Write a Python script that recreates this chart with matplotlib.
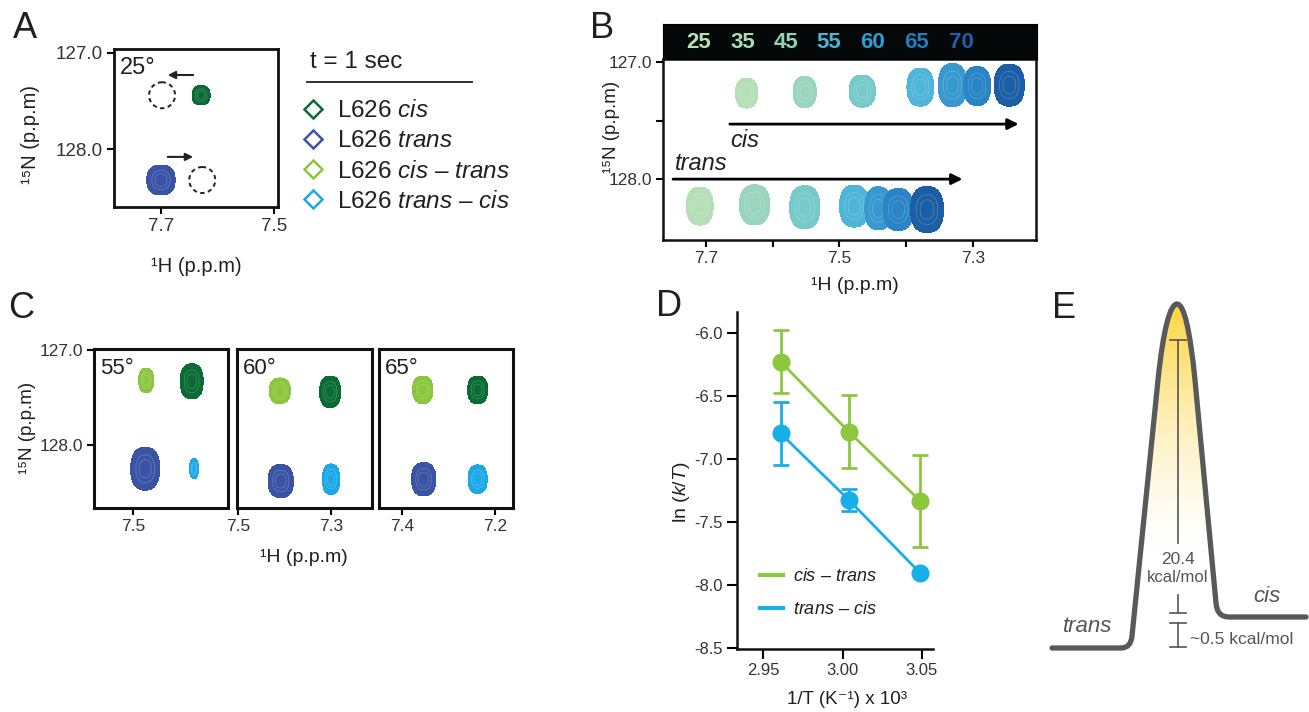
import numpy as np
import matplotlib
matplotlib.use('Agg')
import matplotlib.pyplot as plt
from matplotlib.path import Path
from matplotlib.patches import PathPatch, Ellipse
from matplotlib.lines import Line2D
from matplotlib.colors import LinearSegmentedColormap

plt.rcParams['font.family'] = ['Liberation Sans', 'DejaVu Sans']
plt.rcParams['mathtext.fontset'] = 'custom'
plt.rcParams['mathtext.rm'] = 'Liberation Sans'
plt.rcParams['mathtext.it'] = 'Liberation Sans:italic'
plt.rcParams['mathtext.bf'] = 'Liberation Sans:bold'
plt.rcParams['axes.unicode_minus'] = False
plt.rcParams['text.color'] = '#231f20'

# ---------------- data ----------------
C_CIS = '#0b6b35'
C_TRANS = '#3a53a4'
C_CT = '#8cc63f'
C_TC = '#1ba8e6'

# Panel A (25 deg, t = 1 s)
a_peak_h = [7.629, 7.700]
a_peak_n = [127.44, 128.32]
a_peak_w = [0.032, 0.050]
a_peak_hh = [0.20, 0.31]
a_peak_col = [C_CIS, C_TRANS]
a_ghost_h = [7.698, 7.627]
a_ghost_n = [127.44, 128.32]
a_arrow_from_h = [7.643, 7.688]
a_arrow_to_h = [7.688, 7.643]
a_arrow_n = [127.23, 128.08]
a_legend_labels = ['L626 $\\mathit{cis}$', 'L626 $\\mathit{trans}$',
                   'L626 $\\mathit{cis}$ – $\\mathit{trans}$',
                   'L626 $\\mathit{trans}$ – $\\mathit{cis}$']
a_legend_col = [C_CIS, C_TRANS, C_CT, C_TC]

# Panel B (temperature series)
b_temps = ['25', '35', '45', '55', '60', '65', '70']
b_temp_text_col = ['#b9e2b3', '#a6dcbc', '#8ed4bb', '#49b7d5', '#2aa0d4', '#1f7fc2', '#1f5fae']
b_peak_col = ['#b6dfb8', '#9ad6bf', '#78cac8', '#4fb6d9', '#3799cf', '#2a84c5', '#1b5ea6']
b_cis_h = [7.639, 7.552, 7.466, 7.379, 7.331, 7.294, 7.246]
b_cis_n = [127.265, 127.256, 127.248, 127.214, 127.197, 127.205, 127.197]
b_cis_w = [0.033, 0.0345, 0.039, 0.040, 0.042, 0.040, 0.045]
b_cis_hh = [0.256, 0.265, 0.274, 0.325, 0.368, 0.333, 0.359]
b_trans_h = [7.709, 7.627, 7.552, 7.478, 7.442, 7.412, 7.369]
b_trans_n = [128.23, 128.22, 128.24, 128.23, 128.25, 128.26, 128.26]
b_trans_w = [0.040, 0.045, 0.045, 0.0435, 0.040, 0.045, 0.049]
b_trans_hh = [0.325, 0.342, 0.368, 0.359, 0.368, 0.359, 0.393]

# Panel C (55, 60, 65 deg) : order = cis-trans, cis, trans, trans-cis
c_titles = ['55°', '60°', '65°']
c_xlim = [(7.584, 7.296), (7.502, 7.212), (7.449, 7.161)]
c_xticks = [[7.5], [7.5, 7.3], [7.4, 7.2]]
c_peak_col = [C_CT, C_CIS, C_TRANS, C_TC]
c_peak_h = [[7.472, 7.374, 7.474, 7.369],
            [7.410, 7.302, 7.408, 7.300],
            [7.355, 7.237, 7.353, 7.237]]
c_peak_n = [[127.32, 127.33, 128.25, 128.25],
            [127.43, 127.44, 128.38, 128.36],
            [127.42, 127.42, 128.36, 128.36]]
c_peak_w = [[0.032, 0.049, 0.062, 0.019],
            [0.045, 0.045, 0.054, 0.037],
            [0.043, 0.043, 0.052, 0.041]]
c_peak_hh = [[0.26, 0.37, 0.45, 0.21],
             [0.27, 0.33, 0.35, 0.32],
             [0.29, 0.29, 0.35, 0.30]]

# Panel D (Eyring)
d_invT = [2.961, 3.004, 3.049]
d_cis_trans = [-6.225, -6.783, -7.334]
d_cis_trans_err = [0.249, 0.29, 0.366]
d_trans_cis = [-6.796, -7.325, -7.907]
d_trans_cis_err = [0.25, 0.086, 0.0]
d_yticks = [-6.0, -6.5, -7.0, -7.5, -8.0, -8.5]
d_xticks = [2.95, 3.00, 3.05]
D_GREEN = '#8dc63f'
D_BLUE = '#19aee8'

# Panel E (energy diagram, schematic in figure pixels)
e_barrier = '20.4'
e_dG = '~0.5 kcal/mol'

W, H = 1309, 712
fig = plt.figure(figsize=(W / 100, H / 100), dpi=100)


def box(l, t, r, b):
    return [l / W, 1 - b / H, (r - l) / W, (b - t) / H]


def ftext(x, y, s, **kw):
    return fig.text(x / W, 1 - y / H, s, **kw)


P_EXP = 2.4
R_EDGE = (2 * np.log(10)) ** (1 / P_EXP)


def peak(ax, x0, y0, w, h, color, lines=True, z=2):
    sx = w / 2 / R_EDGE
    sy = h / 2 / R_EDGE
    xs = np.linspace(x0 - w, x0 + w, 91)
    ys = np.linspace(y0 - h, y0 + h, 91)
    X, Y = np.meshgrid(xs, ys)
    Z = np.exp(-0.5 * (np.abs((X - x0) / sx) ** P_EXP + np.abs((Y - y0) / sy) ** P_EXP))
    ax.contourf(X, Y, Z, levels=[0.1, 1.1], colors=[color], zorder=z)
    if lines:
        ax.contour(X, Y, Z, levels=[0.45, 0.75], colors='white',
                   linewidths=0.5, alpha=0.25, zorder=z)


def nmr_style(ax, lw=2.0, ticklen=5, labelsize=13):
    for s in ax.spines.values():
        s.set_linewidth(lw)
        s.set_color('#111111')
    ax.tick_params(direction='out', length=ticklen, width=1.5,
                   labelsize=labelsize, pad=3, labelcolor='#333333')


# ---------------- Panel A ----------------
axA = fig.add_axes(box(114, 49, 278, 207))
axA.set_xlim(7.783, 7.493)
axA.set_ylim(128.60, 126.96)
axA.set_xticks([7.7, 7.5])
axA.set_xticklabels(['7.7', '7.5'])
axA.set_yticks([127.0, 128.0])
axA.set_yticklabels(['127.0', '128.0'])
nmr_style(axA, labelsize=13.5)
for i in range(len(a_peak_h)):
    peak(axA, a_peak_h[i], a_peak_n[i], a_peak_w[i], a_peak_hh[i], a_peak_col[i])
for i in range(len(a_ghost_h)):
    axA.add_patch(Ellipse((a_ghost_h[i], a_ghost_n[i]), 0.046, 0.27, fill=False,
                          ls=(0, (2.2, 1.8)), lw=1.4, ec='#222222'))
for i in range(len(a_arrow_n)):
    axA.annotate('', xy=(a_arrow_to_h[i], a_arrow_n[i]),
                 xytext=(a_arrow_from_h[i], a_arrow_n[i]),
                 arrowprops=dict(arrowstyle='-|>', lw=1.5, color='#222222',
                                 mutation_scale=11, shrinkA=0, shrinkB=0))
axA.text(0.037, 0.88, '25°', transform=axA.transAxes, fontsize=17, va='center')

ftext(310, 62, 't = 1 sec', fontsize=17.5, va='center')
handles = [Line2D([], [], marker='D', ls='none', mfc='none', mec=c, mew=1.8, ms=9.5)
           for c in a_legend_col]
fig.legend(handles, a_legend_labels, loc='upper left',
           bbox_to_anchor=(303 / W, 1 - 100 / H), frameon=False, fontsize=17.5,
           handlelength=0.8, handletextpad=0.6, labelspacing=0.34,
           borderpad=0, borderaxespad=0)

ftext(31, 134, '¹⁵N (p.p.m)', fontsize=14.5, rotation=90, ha='center', va='center')
ftext(196, 267, '¹H (p.p.m)', fontsize=14.5, ha='center', va='center')

# ---------------- Panel B ----------------
axB = fig.add_axes(box(663, 59, 1036, 240))
axB.set_xlim(7.764, 7.206)
axB.set_ylim(128.52, 126.974)
axB.set_xticks([7.7, 7.6, 7.5, 7.4, 7.3])
axB.set_xticklabels(['7.7', '', '7.5', '', '7.3'])
axB.set_yticks([127.0, 127.5, 128.0])
axB.set_yticklabels(['127.0', '', '128.0'])
nmr_style(axB, lw=1.8, labelsize=12.5)
for i in range(len(b_temps)):
    peak(axB, b_cis_h[i], b_cis_n[i], b_cis_w[i], b_cis_hh[i], b_peak_col[i], z=2 + i)
    peak(axB, b_trans_h[i], b_trans_n[i], b_trans_w[i], b_trans_hh[i], b_peak_col[i], z=2 + i)
axB.annotate('', xy=(7.232, 127.53), xytext=(7.664, 127.53),
             arrowprops=dict(arrowstyle='-|>', lw=2, color='black',
                             mutation_scale=16, shrinkA=0, shrinkB=0), zorder=20)
axB.annotate('', xy=(7.316, 128.0), xytext=(7.749, 128.0),
             arrowprops=dict(arrowstyle='-|>', lw=2, color='black',
                             mutation_scale=16, shrinkA=0, shrinkB=0), zorder=20)
axB.text(7.664, 127.667, 'cis', style='italic', fontsize=17, ha='left', va='center')
axB.text(7.746, 127.863, 'trans', style='italic', fontsize=17, ha='left', va='center')

axHd = fig.add_axes(box(663, 24, 1037, 59))
axHd.set_facecolor('#050808')
axHd.set_xticks([])
axHd.set_yticks([])
axHd.set_xlim(0, 1)
axHd.set_ylim(0, 1)
b_header_pos = [0.096, 0.214, 0.329, 0.444, 0.561, 0.679, 0.797]
for t, c, p in zip(b_temps, b_temp_text_col, b_header_pos):
    axHd.text(p, 0.48, t, color=c, fontsize=16, fontweight='bold', ha='center', va='center')

ftext(612, 127, '¹⁵N (p.p.m)', fontsize=13.5, rotation=90, ha='center', va='center')
ftext(855, 285, '¹H (p.p.m)', fontsize=14, ha='center', va='center')

# ---------------- Panel C ----------------
c_boxes = [(94, 349, 228, 508), (237, 349, 372, 508), (379, 349, 513, 508)]
for k in range(3):
    ax = fig.add_axes(box(*c_boxes[k]))
    ax.set_xlim(*c_xlim[k])
    ax.set_ylim(128.663, 126.99)
    ax.set_xticks(c_xticks[k])
    ax.set_xticklabels([f'{v:.1f}' for v in c_xticks[k]])
    if k == 0:
        ax.set_yticks([127.0, 128.0])
        ax.set_yticklabels(['127.0', '128.0'])
    else:
        ax.set_yticks([])
    nmr_style(ax, lw=2.2, labelsize=12.5)
    for j in range(4):
        peak(ax, c_peak_h[k][j], c_peak_n[k][j], c_peak_w[k][j], c_peak_hh[k][j], c_peak_col[j])
    ax.text(0.045, 0.88, c_titles[k], transform=ax.transAxes, fontsize=16, va='center')

ftext(27, 428, '¹⁵N (p.p.m)', fontsize=13.5, rotation=90, ha='center', va='center')
ftext(304, 558, '¹H (p.p.m)', fontsize=14, ha='center', va='center')

# ---------------- Panel D ----------------
axD = fig.add_axes(box(737, 312, 933, 649))
axD.set_xlim(2.9335, 3.057)
axD.set_ylim(-8.51, -5.83)
for s in ['top', 'right']:
    axD.spines[s].set_visible(False)
for s in ['left', 'bottom']:
    axD.spines[s].set_linewidth(1.8)
    axD.spines[s].set_color('#111111')
axD.set_yticks(d_yticks)
axD.set_yticklabels([f'{v:.1f}' for v in d_yticks])
axD.set_xticks(d_xticks)
axD.set_xticklabels([f'{v:.2f}' for v in d_xticks])
axD.tick_params(direction='out', length=7, width=1.5, labelsize=12, pad=3, labelcolor='#333333')
axD.errorbar(d_invT, d_cis_trans, yerr=d_cis_trans_err, color=D_GREEN, lw=2,
             elinewidth=2, capsize=6, capthick=2, marker='o', ms=12, zorder=3)
axD.errorbar(d_invT, d_trans_cis, yerr=d_trans_cis_err, color=D_BLUE, lw=2,
             elinewidth=2, capsize=6, capthick=2, marker='o', ms=12, zorder=3)
axD.legend([Line2D([], [], color=D_GREEN, lw=3), Line2D([], [], color=D_BLUE, lw=3)],
           ['$\\mathit{cis}$ – $\\mathit{trans}$', '$\\mathit{trans}$ – $\\mathit{cis}$'],
           loc='upper left', bbox_to_anchor=(0.117, 0.24), frameon=False, fontsize=13,
           handlelength=1.3, handletextpad=0.55, labelspacing=0.9,
           borderpad=0, borderaxespad=0)
ftext(682, 492, 'ln ($\\mathit{k/T}$)', fontsize=14, rotation=90, ha='center', va='center')
ftext(847, 700, '1/T (K⁻¹) x 10³', fontsize=13.5, ha='center', va='center')

# ---------------- overlay (labels, panel E) ----------------
axO = fig.add_axes([0, 0, 1, 1], zorder=10)
axO.set_xlim(0, W)
axO.set_ylim(H, 0)
axO.axis('off')

axO.plot([307, 472], [82, 82], color='#231f20', lw=1.3)

for lab, (x, y) in zip('ABCDE', [(25, 29), (602, 28), (21, 309), (669, 307), (1064, 309)]):
    axO.text(x, y, lab, fontsize=26, ha='center', va='center')

# energy profile
M, L, C3, C4 = Path.MOVETO, Path.LINETO, Path.CURVE3, Path.CURVE4
e_verts = [(1052, 648), (1121, 648), (1131, 648), (1132, 636), (1158, 380),
           (1163.2, 330), (1170, 304), (1177, 304),
           (1184, 304), (1190, 330), (1195, 380),
           (1216, 603), (1217, 617), (1229, 617), (1306, 617)]
e_codes = [M, L, C3, C3, L, C4, C4, C4, C4, C4, C4, L, C3, C3, L]
hump_verts = [(1132, 636), (1158, 380), (1163.2, 330), (1170, 304), (1177, 304),
              (1184, 304), (1190, 330), (1195, 380), (1216, 603), (1132, 636)]
hump_codes = [M, L, C4, C4, C4, C4, C4, C4, L, Path.CLOSEPOLY]
hump = PathPatch(Path(hump_verts, hump_codes), fc='none', ec='none', transform=axO.transData)
axO.add_patch(hump)
yy = np.linspace(300, 640, 300)
grad = np.clip((560 - yy) / 255, 0, 1) ** 1.6
cmap = LinearSegmentedColormap.from_list('y', ['#ffffff', '#fdd53f'])
im = axO.imshow(grad[:, None], cmap=cmap, vmin=0, vmax=1, aspect='auto',
                extent=[1125, 1235, 640, 300], origin='upper', zorder=1)
im.set_clip_path(hump)
axO.set_xlim(0, W)
axO.set_ylim(H, 0)
axO.add_patch(PathPatch(Path(e_verts, e_codes), fill=False, lw=3.8, ec='#58595b',
                        capstyle='round', joinstyle='round', zorder=3))

gc = '#555555'
axO.plot([1178, 1178], [340, 543], color=gc, lw=1.2, zorder=4)
axO.plot([1170, 1186], [340, 340], color=gc, lw=1.2, zorder=4)
axO.plot([1178, 1178], [595, 613], color=gc, lw=1.2)
axO.plot([1170, 1186], [613, 613], color=gc, lw=1.2)
axO.plot([1178, 1178], [623, 647], color=gc, lw=1.2)
axO.plot([1170, 1186], [623, 623], color=gc, lw=1.2)
axO.plot([1170, 1186], [647, 647], color=gc, lw=1.2)
axO.text(1178, 559, e_barrier, fontsize=12.5, color=gc, ha='center', va='center')
axO.text(1178, 578, 'kcal/mol', fontsize=12, color=gc, ha='center', va='center')
axO.text(1190, 640, e_dG, fontsize=12.5, color=gc, ha='left', va='center')
axO.text(1088, 626, 'trans', fontsize=16, style='italic', color=gc, ha='center', va='center')
axO.text(1267, 597, 'cis', fontsize=16, style='italic', color=gc, ha='center', va='center')

fig.savefig('out.png', dpi=100)
